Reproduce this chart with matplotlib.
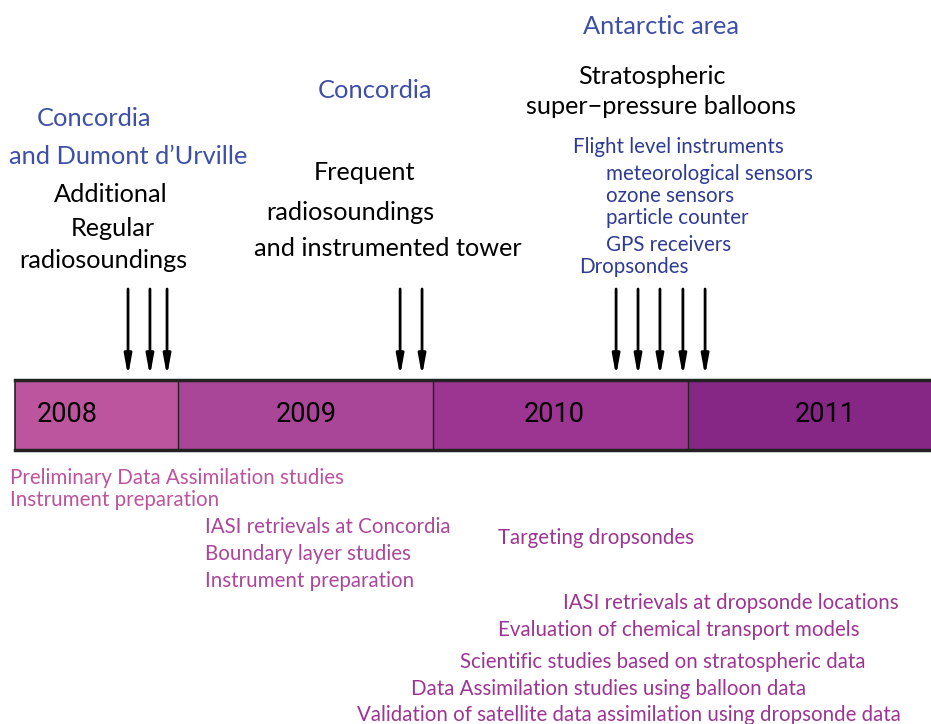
import matplotlib
matplotlib.use("Agg")
import matplotlib.pyplot as plt

plt.rcParams['font.family'] = ['Lato', 'DejaVu Sans']

# timeline data
years = [2008, 2009, 2010, 2011]
year_start = [2008.36, 2009.0, 2010.0, 2011.0]
year_end = [2009.0, 2010.0, 2011.0, 2011.953]
year_colors = ['#bc559d', '#a94697', '#9c3591', '#872785']

# launch dates (arrows)
arrow_times = [2008.804, 2008.890, 2008.957,
               2009.871, 2009.957,
               2010.718, 2010.804, 2010.890, 2010.980, 2011.067]

# text above the bar: (text, x, y, size, color, ha)
blue = '#3d4fa6'
navy = '#2e3b92'
big = 18.2
head = 18.3
small = 14.8
top_labels = [
    ("Concordia", 94, 119, head, blue, 'center'),
    ("and Dumont d\u2019Urville", 128, 157, head, blue, 'center'),
    ("Additional", 111, 194, big, 'black', 'center'),
    ("Regular", 113, 228, big, 'black', 'center'),
    ("radiosoundings", 103, 260, big, 'black', 'center'),
    ("Concordia", 375, 91, head, blue, 'center'),
    ("Frequent", 364, 173, big, 'black', 'center'),
    ("radiosoundings", 350, 212, big, 'black', 'center'),
    ("and instrumented tower", 388, 248, big, 'black', 'center'),
    ("Antarctic area", 661, 26, head, blue, 'center'),
    ("Stratospheric", 652, 76, big, 'black', 'center'),
    ("super\u2212pressure balloons", 661, 107, big, 'black', 'center'),
    ("Flight level instruments", 573, 147, small, navy, 'left'),
    ("meteorological sensors", 606, 174, small, navy, 'left'),
    ("ozone sensors", 606, 196, small, navy, 'left'),
    ("particle counter", 606, 218, small, navy, 'left'),
    ("GPS receivers", 606, 245, small, navy, 'left'),
    ("Dropsondes", 579, 267, small, navy, 'left'),
]

# activities below the bar: (text, x, y, color)
pink1 = '#bd539d'
pink2 = '#ab479b'
pink3 = '#9c3593'
activities = [
    ("Preliminary Data Assimilation studies", 10, 478, pink1),
    ("Instrument preparation", 10, 500, pink1),
    ("IASI retrievals at Concordia", 205, 527, pink2),
    ("Boundary layer studies", 205, 554, pink2),
    ("Instrument preparation", 205, 581, pink2),
    ("Targeting dropsondes", 498, 538, pink3),
    ("IASI retrievals at dropsonde locations", 563, 603, pink3),
    ("Evaluation of chemical transport models", 498, 630, pink3),
    ("Scientific studies based on stratospheric data", 460, 662, pink3),
    ("Data Assimilation studies using balloon data", 411, 689, pink3),
    ("Validation of satellite data assimilation using dropsonde data", 357, 715, pink3),
]

fig = plt.figure(figsize=(9.31, 7.24), dpi=100)
ax = fig.add_axes([0, 0, 1, 1])
x0 = 2009 - 178 / 255
x1 = 2009 + 753 / 255
ax.set_xlim(x0, x1)
ax.set_ylim(724, 0)
ax.axis('off')

px = 1 / 255  # one pixel in years, for text placement
def xp(p):
    return x0 + p * px

# the bar
bar_top, bar_bot = 380, 450
for y, s, e, c in zip(years, year_start, year_end, year_colors):
    ax.fill_between([s, e], bar_top, bar_bot, color=c, lw=0)
for s in year_start[1:]:
    ax.plot([s, s], [bar_top, bar_bot], color='#222222', lw=1)
ax.plot([year_start[0], x1], [bar_top, bar_top], color='#222222', lw=2.5)
ax.plot([year_start[0], x1], [bar_bot, bar_bot], color='#222222', lw=2.5)
ax.plot([year_start[0], year_start[0]], [bar_top, bar_bot], color='#222222', lw=1.2)

label_x = [67, 306, 554, 825]
for y, lx in zip(years, label_x):
    ax.text(xp(lx), 414, str(y), ha='center', va='center', fontsize=19.5,
            color='black', family=['Roboto', 'DejaVu Sans'], fontstretch='condensed')

# arrows
for t in arrow_times:
    ax.annotate('', xy=(t, 376), xytext=(t, 289),
                arrowprops=dict(arrowstyle='-|>,head_length=1.2,head_width=0.22',
                                color='black', lw=2, shrinkA=0, shrinkB=0))

for txt, x, y, fs, c, ha in top_labels:
    ax.text(xp(x), y, txt, ha=ha, va='center', fontsize=fs, color=c)

for txt, x, y, c in activities:
    ax.text(xp(x), y, txt, ha='left', va='center', fontsize=small, color=c)

fig.savefig('out.png', dpi=100)
